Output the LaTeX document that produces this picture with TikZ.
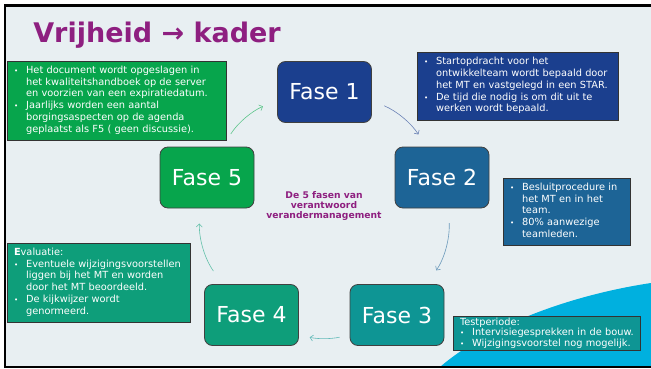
\documentclass[tikz,border=0pt]{standalone}
\usepackage{fontspec}
\setmainfont{DejaVu Sans}
\usetikzlibrary{arrows.meta}

\definecolor{bgc}{HTML}{E8EFF2}
\definecolor{paars}{HTML}{8E1F80}
\definecolor{swoosh}{HTML}{00B0DF}
\definecolor{fase1}{HTML}{1B3F8E}
\definecolor{fase2}{HTML}{1D6496}
\definecolor{fase3}{HTML}{0E9594}
\definecolor{fase4}{HTML}{0E9E7A}
\definecolor{fase5}{HTML}{07A54C}
\newcommand{\bul}{{\fontsize{7}{7}\selectfont •}}

\begin{document}
\begin{tikzpicture}[x=1pt,y=1pt,
  >={Straight Barb[length=3pt,width=6pt]},
  fase/.style={draw=black!75, line width=0.8pt, rounded corners=8pt, text=white,
    font=\fontsize{22}{26}\selectfont, minimum width=94pt, minimum height=61pt},
  info/.style={draw=black!80, line width=0.8pt, text=white, align=left,
    inner xsep=7pt, inner ysep=1pt, font=\fontsize{9.8}{11.8}\selectfont}]
  \useasboundingbox (0,0) rectangle (651,-369);
  \fill[white] (0,0) rectangle (651,-369);
  \fill[bgc] (5,-5) rectangle (651,-367);
  \fill[swoosh] (440,-367) .. controls (485,-328) and (565,-296) .. (651,-283)
    -- (651,-367) -- cycle;
  \draw[line width=2.2pt] (651,-5.5) -- (4.7,-5.5) -- (4.7,-367) -- (651,-367);

  \node[text=paars, font=\bfseries\fontsize{27}{30}\selectfont] (titel) at (157,-35)
    {Vrijheid → kader};

  \foreach \n/\x/\y in {1/324.5/-92, 2/442/-177.5, 3/397/-315, 4/251.5/-315, 5/207/-177.5}
    \node[fase, fill=fase\n] (f\n) at (\x,\y) {Fase \n};

  \foreach \a/\p/\b/\q/\bend/\s/\e in {1/-10.6/2/117.7/16.8/13.5/14.4,
      2/-78.9/3/46.9/18.5/14.8/16.6, 3/203.4/4/-23.3/11.7/10.3/11,
      4/133/5/-103.6/18.6/16/15.2, 5/63.8/1/190.3/17.2/15/15.4}
    \draw[->, fase\a!65, line width=0.6pt, shorten <=\s pt, shorten >=\e pt]
      (f\a.\p) to[bend left=\bend] (f\b.\q);

  \node[text=paars, align=center, font=\bfseries\fontsize{9.2}{9.6}\selectfont] (midden)
    at (324,-206) {De 5 fasen van\\verantwoord\\verandermanagement};

  \node[info, fill=fase5, text width=205pt, minimum height=79pt] (borging) at (116.5,-100.5)
    {\begin{tabular}{@{}l@{\hspace{8pt}}l@{}}
      \bul & Het document wordt opgeslagen in\\
           & het kwaliteitshandboek op de server\\
           & en voorzien van een expiratiedatum.\\
      \bul & Jaarlijks worden een aantal\\
           & borgingsaspecten op de agenda\\
           & geplaatst als F5 ( geen discussie).
    \end{tabular}};
  \node[info, fill=fase1, text width=187pt, minimum height=68pt] (start) at (517.5,-86)
    {\begin{tabular}{@{}l@{\hspace{8pt}}l@{}}
      \bul & Startopdracht voor het\\
           & ontwikkelteam wordt bepaald door\\
           & het MT en vastgelegd in een STAR.\\
      \bul & De tijd die nodig is om dit uit te\\
           & werken wordt bepaald.
    \end{tabular}};
  \node[info, fill=fase2, text width=113pt, minimum height=67pt] (besluit) at (566.5,-211.5)
    {\begin{tabular}{@{}l@{\hspace{8pt}}l@{}}
      \bul & Besluitprocedure in\\
           & het MT en in het\\
           & team.\\
      \bul & 80\% aanwezige\\
           & teamleden.
    \end{tabular}};
  \node[info, fill=fase4, text width=169pt, minimum height=79pt] (evaluatie) at (98.5,-282.5)
    {\begin{tabular}{@{}l@{\hspace{8pt}}l@{}}
      \multicolumn{2}{@{}l@{}}{\textbf{E}valuatie:}\\
      \bul & Eventuele wijzigingsvoorstellen\\
           & liggen bij het MT en worden\\
           & door het MT beoordeeld.\\
      \bul & De kijkwijzer wordt\\
           & genormeerd.
    \end{tabular}};
  \node[info, fill=fase3, text width=173pt, minimum height=34pt, inner ysep=0pt,
    font=\fontsize{9.8}{10.4}\selectfont] (test) at (546.5,-333.5)
    {\begin{tabular}{@{}l@{\hspace{8pt}}l@{}}
      \multicolumn{2}{@{}l@{}}{Testperiode:}\\
      \bul & Intervisiegesprekken in de bouw.\\
      \bul & Wijzigingsvoorstel nog mogelijk.
    \end{tabular}};
\end{tikzpicture}
\end{document}
